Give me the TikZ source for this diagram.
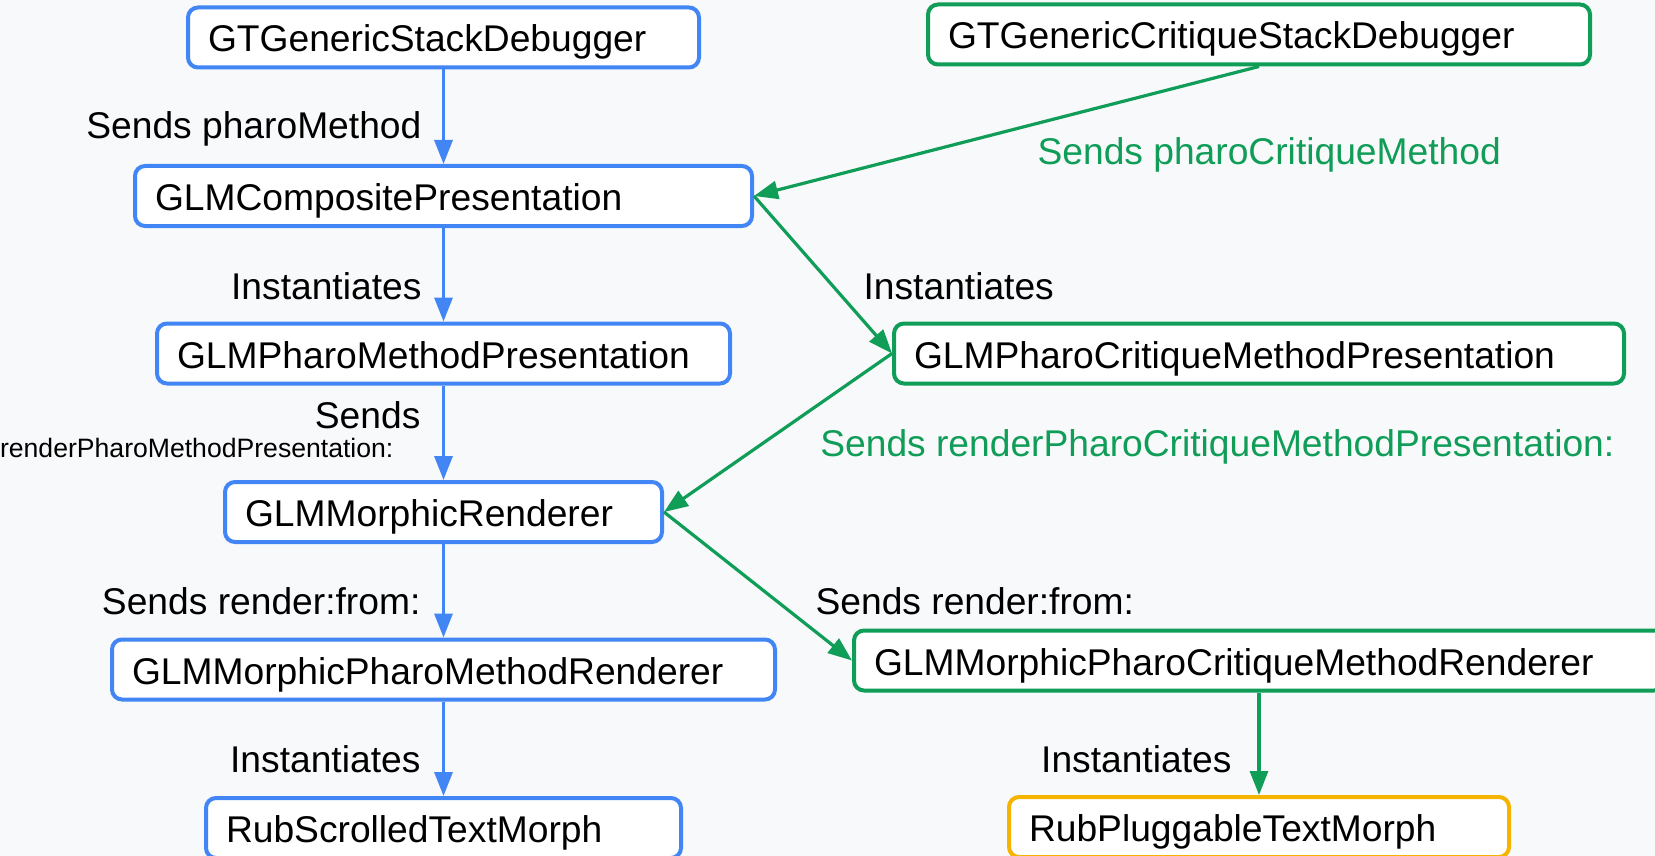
\documentclass[tikz,border=0pt]{standalone}
\usepackage{fontspec}
\setmainfont{Liberation Sans}
\usetikzlibrary{positioning,arrows.meta}
\definecolor{gblue}{HTML}{4285F4}
\definecolor{ggreen}{HTML}{0F9D58}
\definecolor{gyellow}{HTML}{F4B400}
\definecolor{canvas}{HTML}{F8F9FA}
\newcommand{\clsfont}{\fontsize{18.6}{22}\selectfont}
\newcommand{\tinyfont}{\fontsize{13.3}{15}\selectfont}
\tikzset{
	flow/.style={x=0.5pt,y=-0.5pt,>={Triangle[length=12pt,width=9pt]},
		line width=1.6pt},
	cls/.style={rectangle,draw,rounded corners=5pt,line width=2pt,fill=white,
		minimum height=30pt,inner xsep=10pt,inner ysep=0pt,align=left,
		text height=14.5pt,text depth=0pt,anchor=west,font=\clsfont},
	blue cls/.style={cls,draw=gblue},
	green cls/.style={cls,draw=ggreen},
	yellow cls/.style={cls,draw=gyellow},
	msg/.style={inner sep=0pt,font=\clsfont},
	msg left/.style={msg,anchor=base east},
	msg right/.style={msg,anchor=base west}
}

\begin{document}
\begin{tikzpicture}[flow]
	\useasboundingbox (0,0) rectangle (1655,856);
	\fill[canvas] (0,0) rectangle (1655,856);
	
	% pharo side
	\node[blue cls, text width=235.5pt] (stack) at (186,37.5) {GTGenericStackDebugger};
	\node[blue cls, text width=288.5pt] (composite) at (133,196) {GLMCompositePresentation};
	\node[blue cls, text width=266.5pt] (pharopres) at (155,353.5) {GLMPharoMethodPresentation};
	\node[blue cls, text width=198.5pt] (renderer) at (223,512) {GLMMorphicRenderer};
	\node[blue cls, text width=311.5pt] (pharorend) at (110,669.5) {GLMMorphicPharoMethodRenderer};
	\node[blue cls, text width=217.5pt] (scrolled) at (204,828) {RubScrolledTextMorph};
	
	% critique side
	\node[green cls, text width=311pt] (critstack) at (926,34.5) {GTGenericCritiqueStackDebugger};
	\node[green cls, text width=345pt] (critpres) at (892,353.5) {GLMPharoCritiqueMethodPresentation};
	\node[green cls, text width=385pt] (critrend) at (852,660.5) {GLMMorphicPharoCritiqueMethodRenderer};
	\node[yellow cls, text width=230pt] (pluggable) at (1007,827) {RubPluggableTextMorph};
	
	\path[->,gblue] (stack) edge (composite);
	\path[->,gblue] (composite) edge (pharopres);
	\path[->,gblue] (pharopres) edge (renderer);
	\path[->,gblue] (renderer) edge (pharorend);
	\path[->,gblue] (pharorend) edge (scrolled);
	
	\path[->,ggreen] (critstack.south) edge (composite.east);
	\path[->,ggreen] (composite.east) edge (critpres.west);
	\path[->,ggreen] (critpres.west) edge (renderer.east);
	\path[->,ggreen] (renderer.east) edge (critrend.west);
	\path[->,ggreen] (critrend.south) edge (pluggable.north);
	
	% messages
	\node[msg left] (m1) at (423,139) {Sends pharoMethod};
	\node[msg left] (m2) at (423,299) {Instantiates};
	\node[msg left] (m3) at (422,428) {Sends};
	\node[msg left, font=\tinyfont] (m3b) at (395,457) {renderPharoMethodPresentation:};
	\node[msg left] (m4) at (422,614) {Sends render:from:};
	\node[msg left] (m5) at (422,772) {Instantiates};
	\node[msg right, ggreen] (c1) at (1036,164) {Sends pharoCritiqueMethod};
	\node[msg right] (c2) at (862,299) {Instantiates};
	\node[msg left, ggreen] (c3) at (1616,456) {Sends renderPharoCritiqueMethodPresentation:};
	\node[msg right] (c4) at (814,614) {Sends render:from:};
	\node[msg left] (c5) at (1233,772) {Instantiates};
\end{tikzpicture}
\end{document}
